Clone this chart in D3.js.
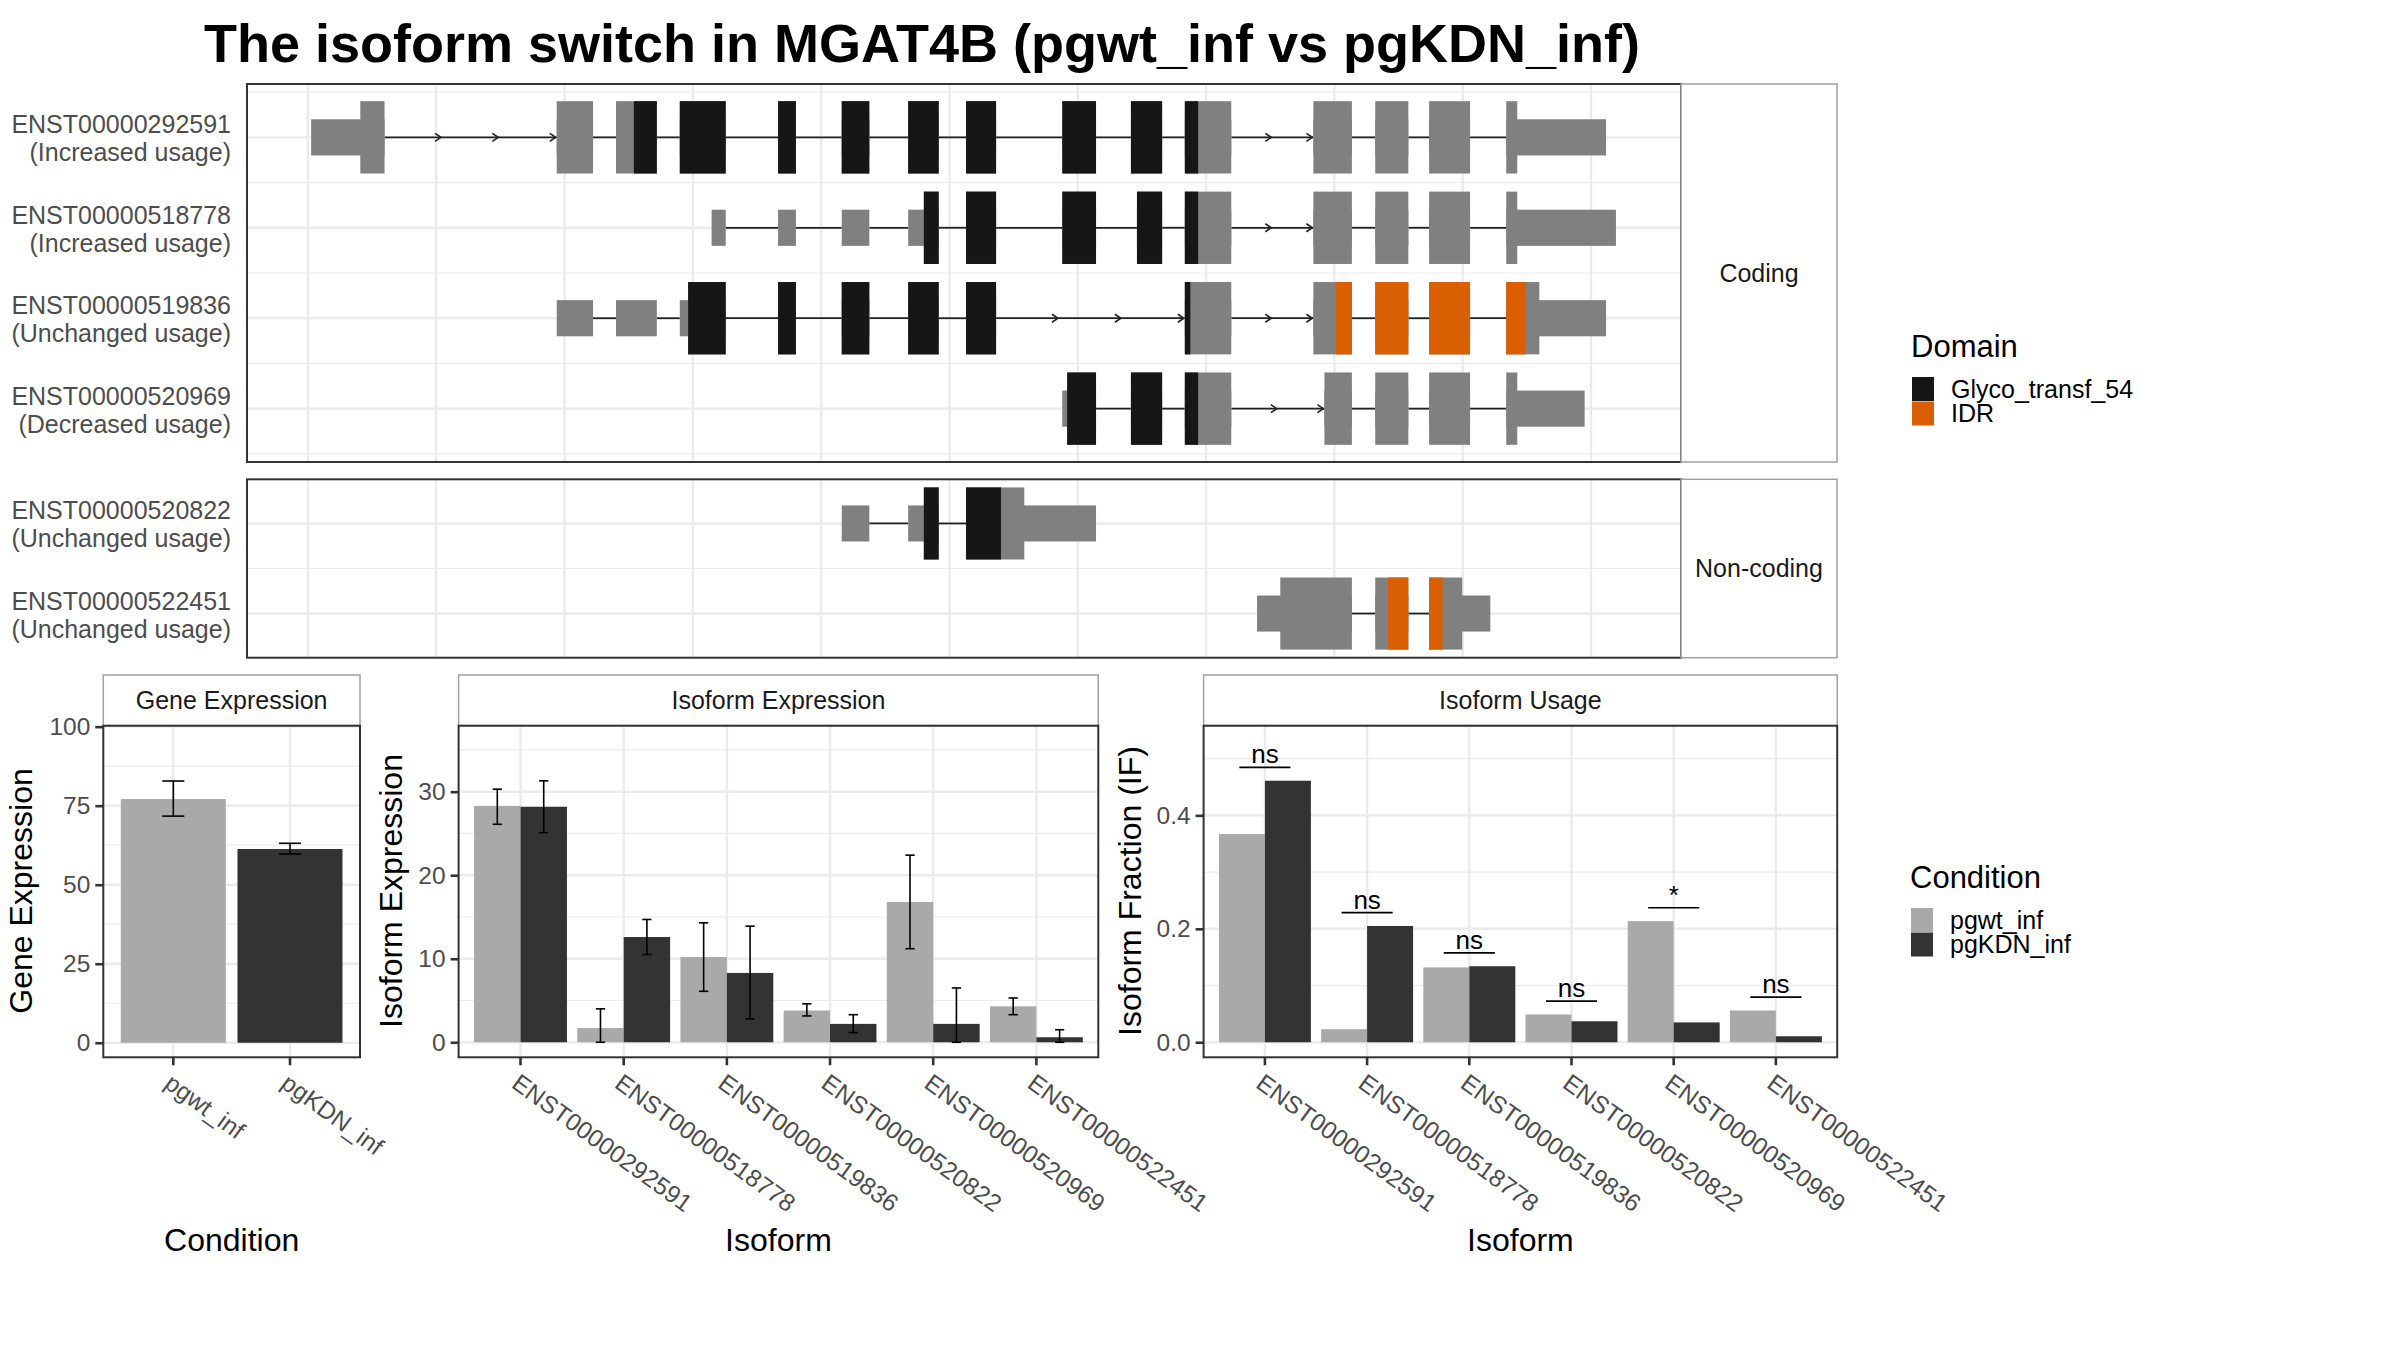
<!DOCTYPE html>
<html><head><meta charset="utf-8">
<script src="https://cdn.jsdelivr.net/npm/d3@7/dist/d3.min.js"></script>
<style>
body{margin:0;background:#fff}
svg{display:block}
text{font-family:"Liberation Sans",Arial,Helvetica,sans-serif}
</style>
</head><body>
<svg id="chart" width="2400" height="1350"></svg>
<script>
// ---------------- DATA ----------------
const titleText = "The isoform switch in MGAT4B (pgwt_inf vs pgKDN_inf)";

const transcriptIds = ["ENST00000292591","ENST00000518778","ENST00000519836","ENST00000520969","ENST00000520822","ENST00000522451"];
const usageLabels = ["Increased usage","Increased usage","Unchanged usage","Decreased usage","Unchanged usage","Unchanged usage"];
const transcriptClass = ["Coding","Coding","Coding","Coding","Non-coding","Non-coding"];

// exon coordinates (relative genomic position, bp)
const exons292591 = [[25,597],[1939,2222],[2401,2719],[2898,3256],[3664,3803],[4160,4375],[4678,4916],[5129,5363],[5879,6142],[6414,6657],[6834,7196],[7836,8136],[8318,8576],[8738,9057],[9339,10117]];
const exons518778 = [[3146,3256],[3664,3803],[4160,4375],[4678,4916],[5129,5363],[5879,6142],[6461,6657],[6834,7196],[7836,8136],[8318,8576],[8738,9057],[9339,10194]];
const exons519836 = [[1939,2222],[2401,2719],[2898,3256],[3664,3803],[4160,4375],[4678,4916],[5129,5363],[6834,7196],[7836,8136],[8318,8576],[8738,9057],[9339,10117]];
const exons520969 = [[5879,6142],[6414,6657],[6834,7196],[7922,8136],[8318,8576],[8738,9057],[9339,9950]];
const exons520822 = [[4160,4375],[4678,4916],[5129,6142]];
const exons522451 = [[7397,8136],[8318,8576],[8738,9215]];
const exonSets = [exons292591, exons518778, exons519836, exons520969, exons520822, exons522451];

const cdsStart = [408, 4800, 2963, 5917, 4800, 7578];
const cdsEnd   = [9425, 9425, 9597, 9425, 5583, 8996];

const domainNames = ["Glyco_transf_54","IDR"];
const domains292591 = [["Glyco_transf_54",2540,6938]];
const domains518778 = [["Glyco_transf_54",4800,6938]];
const domains519836 = [["Glyco_transf_54",2963,6877],["IDR",8012,9492]];
const domains520969 = [["Glyco_transf_54",5917,6938]];
const domains520822 = [["Glyco_transf_54",4800,5401]];
const domains522451 = [["IDR",8418,8843]];
const domainSets = [domains292591, domains518778, domains519836, domains520969, domains520822, domains522451];

const conditions = ["pgwt_inf","pgKDN_inf"];
const geneExpMean = [77.1, 61.3];
const geneExpLow  = [71.7, 59.7];
const geneExpHigh = [82.8, 63.1];

const isoforms = ["ENST00000292591","ENST00000518778","ENST00000519836","ENST00000520822","ENST00000520969","ENST00000522451"];
const isoExpWt     = [28.3, 1.7, 10.2, 3.8, 16.8, 4.3];
const isoExpWtLow  = [26.1, 0.0, 6.1, 3.15, 11.2, 3.3];
const isoExpWtHigh = [30.3, 4.0, 14.3, 4.6, 22.4, 5.3];
const isoExpKd     = [28.2, 12.6, 8.3, 2.2, 2.2, 0.6];
const isoExpKdLow  = [25.1, 10.5, 2.8, 1.16, 0.0, 0.0];
const isoExpKdHigh = [31.3, 14.7, 13.9, 3.3, 6.5, 1.5];

const ifWt = [0.367, 0.023, 0.132, 0.049, 0.2135, 0.056];
const ifKd = [0.461, 0.205, 0.134, 0.037, 0.035, 0.0106];
const sigLabels = ["ns","ns","ns","ns","*","ns"];

const geneTicks = [0,25,50,75,100];
const isoTicks = [0,10,20,30];
const ifTicks = [0,0.2,0.4];

// ---------------- STYLE ----------------
const conditionColors = {"pgwt_inf":"#A9A9A9","pgKDN_inf":"#333333"};
const domainColors = {"Glyco_transf_54":"#161616","IDR":"#D95F02"};
const exonGray = "#808080";
const gridCol = "#EBEBEB";
const borderCol = "#333333";
const stripBorder = "#A0A0A0";
const axisTextCol = "#4D4D4D";

const svg = d3.select("#chart");
svg.append("rect").attr("width",2400).attr("height",1350).attr("fill","#fff");

// title
svg.append("text").attr("x",204).attr("y",62).attr("font-size",54).attr("font-weight","bold")
  .attr("fill","#000").text(titleText);

// ---------------- TRANSCRIPT PANELS ----------------
const genomeDomain = [-475, 10701];
const txX = d3.scaleLinear().domain(genomeDomain).range([247,1681]);
const stripRight = 1837;

const facetDefs = [
  {cls:"Coding", top:84, bottom:462, yDom:[0.41,4.59]},
  {cls:"Non-coding", top:479.3, bottom:657.7, yDom:[0.51,2.49]}
];

facetDefs.forEach(f => {
  const idx = transcriptIds.map((d,i)=>i).filter(i => transcriptClass[i] === f.cls);
  const n = idx.length;
  const y = d3.scaleLinear().domain(f.yDom).range([f.bottom, f.top]);
  const g = svg.append("g");
  const x0 = txX.range()[0], x1 = txX.range()[1];

  // vertical grid
  const vt = d3.ticks(genomeDomain[0], genomeDomain[1], 10);
  g.selectAll(null).data(vt).join("line")
    .attr("x1",d=>txX(d)).attr("x2",d=>txX(d)).attr("y1",f.top).attr("y2",f.bottom)
    .attr("stroke",gridCol).attr("stroke-width",2.4);
  // horizontal grid
  const hv = [];
  for (let v = Math.ceil(f.yDom[0]*2)/2; v <= f.yDom[1]; v += 0.5) hv.push(v);
  g.selectAll(null).data(hv).join("line")
    .attr("x1",x0).attr("x2",x1).attr("y1",d=>y(d)).attr("y2",d=>y(d))
    .attr("stroke",gridCol).attr("stroke-width",d=>Number.isInteger(d)?2.4:1.2);

  const tallH = y(0) - y(0.4);
  const shortH = y(0) - y(0.2);

  idx.forEach((ti,k) => {
    const yc = y(n - k);
    const ex = exonSets[ti];
    // introns
    for (let j=0;j<ex.length-1;j++){
      const a = txX(ex[j][1]), b = txX(ex[j+1][0]);
      g.append("line").attr("x1",a).attr("x2",b).attr("y1",yc).attr("y2",yc)
        .attr("stroke","#222").attr("stroke-width",1.8);
      const L = b - a;
      if (L > 75) {
        const m = Math.ceil(L/65);
        for (let q=1;q<=m;q++){
          const ax = a + L*q/m - 1;
          g.append("path").attr("d",`M${ax-6},${yc-4}L${ax},${yc}L${ax-6},${yc+4}`)
            .attr("fill","none").attr("stroke","#222").attr("stroke-width",1.6);
        }
      }
    }
    // exons
    ex.forEach(([s,e]) => {
      g.append("rect").attr("x",txX(s)).attr("width",txX(e)-txX(s))
        .attr("y",yc-shortH).attr("height",2*shortH).attr("fill",exonGray);
      const cs = Math.max(s, cdsStart[ti]), ce = Math.min(e, cdsEnd[ti]);
      if (ce > cs) {
        g.append("rect").attr("x",txX(cs)).attr("width",txX(ce)-txX(cs))
          .attr("y",yc-tallH).attr("height",2*tallH).attr("fill",exonGray);
        domainSets[ti].forEach(([name,ds,de]) => {
          const a = Math.max(cs,ds), b = Math.min(ce,de);
          if (b > a) g.append("rect").attr("x",txX(a)).attr("width",txX(b)-txX(a))
            .attr("y",yc-tallH).attr("height",2*tallH).attr("fill",domainColors[name]);
        });
      }
    });
    // labels
    const t = svg.append("text").attr("text-anchor","end").attr("font-size",25).attr("fill",axisTextCol);
    t.append("tspan").attr("x",231).attr("y",yc-4).text(transcriptIds[ti]);
    t.append("tspan").attr("x",231).attr("y",yc+24).text("(" + usageLabels[ti] + ")");
  });

  // border
  g.append("rect").attr("x",x0).attr("y",f.top).attr("width",x1-x0).attr("height",f.bottom-f.top)
    .attr("fill","none").attr("stroke",borderCol).attr("stroke-width",2);
  // strip
  svg.append("rect").attr("x",x1).attr("y",f.top).attr("width",stripRight-x1).attr("height",f.bottom-f.top)
    .attr("fill","#fff").attr("stroke",stripBorder).attr("stroke-width",1.5);
  svg.append("text").attr("x",(x1+stripRight)/2).attr("y",(f.top+f.bottom)/2).attr("dy","0.35em")
    .attr("text-anchor","middle").attr("font-size",25).attr("fill","#1A1A1A").text(f.cls);
});

// ---------------- LEGENDS ----------------
function legend(x, titleY, title, items, colors, keyY0) {
  svg.append("text").attr("x",x).attr("y",titleY).attr("dy","0.35em").attr("font-size",31).attr("fill","#000").text(title);
  items.forEach((it,i) => {
    const ky = keyY0 + i*24.5;
    svg.append("rect").attr("x",x+1).attr("y",ky).attr("width",22).attr("height",24).attr("fill",colors[it]);
    svg.append("text").attr("x",x+40).attr("y",ky+12).attr("dy","0.35em").attr("font-size",25).attr("fill","#000").text(it);
  });
}
legend(1911, 346, "Domain", domainNames, domainColors, 377);
legend(1910, 877, "Condition", conditions, conditionColors, 908);

// ---------------- BAR PANELS ----------------
const panelTop = 725.7, panelBottom = 1057.3, stripTop = 675;

function panelFrame(x0, x1, yScale, ticks, minor, fmt, cats, stripLabel, yTitle, yTitleX, xTitle) {
  const g = svg.append("g");
  const band = d3.scaleBand().domain(cats).range([x0,x1]).paddingInner(0).paddingOuter(0.1);
  // grid
  g.selectAll(null).data(minor).join("line").attr("x1",x0).attr("x2",x1)
    .attr("y1",d=>yScale(d)).attr("y2",d=>yScale(d)).attr("stroke",gridCol).attr("stroke-width",1.2);
  g.selectAll(null).data(ticks).join("line").attr("x1",x0).attr("x2",x1)
    .attr("y1",d=>yScale(d)).attr("y2",d=>yScale(d)).attr("stroke",gridCol).attr("stroke-width",2.4);
  g.selectAll(null).data(cats).join("line").attr("x1",d=>band(d)+band.bandwidth()/2).attr("x2",d=>band(d)+band.bandwidth()/2)
    .attr("y1",panelTop).attr("y2",panelBottom).attr("stroke",gridCol).attr("stroke-width",2.4);
  // strip
  svg.append("rect").attr("x",x0).attr("y",stripTop).attr("width",x1-x0).attr("height",panelTop-stripTop)
    .attr("fill","#fff").attr("stroke",stripBorder).attr("stroke-width",1.5);
  svg.append("text").attr("x",(x0+x1)/2).attr("y",(stripTop+panelTop)/2).attr("dy","0.35em")
    .attr("text-anchor","middle").attr("font-size",25).attr("fill","#1A1A1A").text(stripLabel);
  // y axis
  const ya = svg.append("g").attr("transform",`translate(${x0},0)`)
    .call(d3.axisLeft(yScale).tickValues(ticks).tickSize(8).tickPadding(5).tickFormat(fmt));
  ya.select(".domain").remove();
  ya.selectAll(".tick line").attr("stroke",borderCol).attr("stroke-width",2.6);
  ya.selectAll(".tick text").attr("font-size",24.5).attr("fill",axisTextCol).attr("font-family",null);
  // x axis
  const xa = svg.append("g").attr("transform",`translate(0,${panelBottom})`)
    .call(d3.axisBottom(band).tickSize(8).tickPadding(0));
  xa.select(".domain").remove();
  xa.selectAll(".tick line").attr("stroke",borderCol).attr("stroke-width",2.6);
  xa.selectAll(".tick text").attr("font-size",24.5).attr("fill",axisTextCol).attr("font-family",null)
    .attr("text-anchor","start").attr("y",0).attr("dy","0.72em")
    .attr("transform","translate(0,15) rotate(36)");
  // titles
  svg.append("text").attr("transform",`translate(${yTitleX},891) rotate(-90)`).attr("dy","0.35em")
    .attr("text-anchor","middle").attr("font-size",32).attr("fill","#000").text(yTitle);
  svg.append("text").attr("x",(x0+x1)/2).attr("y",1240).attr("dy","0.35em")
    .attr("text-anchor","middle").attr("font-size",32).attr("fill","#000").text(xTitle);
  return {g, band};
}
function border(x0,x1){
  svg.append("rect").attr("x",x0).attr("y",panelTop).attr("width",x1-x0).attr("height",panelBottom-panelTop)
    .attr("fill","none").attr("stroke",borderCol).attr("stroke-width",2);
}
function errBar(g, cx, w, yLow, yHigh){
  g.append("line").attr("x1",cx).attr("x2",cx).attr("y1",yLow).attr("y2",yHigh).attr("stroke","#000").attr("stroke-width",1.6);
  [yLow,yHigh].forEach(yy => g.append("line").attr("x1",cx-w/2).attr("x2",cx+w/2).attr("y1",yy).attr("y2",yy)
    .attr("stroke","#000").attr("stroke-width",1.6));
}

// Gene expression
{
  const x0 = 103.3, x1 = 360;
  const y = d3.scaleLinear().domain([-4.6,100.3]).range([panelBottom,panelTop]);
  const {g, band} = panelFrame(x0,x1,y,geneTicks,[12.5,37.5,62.5,87.5],d3.format("d"),conditions,
    "Gene Expression","Gene Expression",21,"Condition");
  const bw = band.bandwidth()*0.9;
  conditions.forEach((c,i) => {
    const cx = band(c)+band.bandwidth()/2;
    g.append("rect").attr("x",cx-bw/2).attr("width",bw).attr("y",y(geneExpMean[i]))
      .attr("height",y(0)-y(geneExpMean[i])).attr("fill",conditionColors[c]);
    errBar(g, cx, bw*0.21, y(geneExpLow[i]), y(geneExpHigh[i]));
  });
  border(x0,x1);
}

// Isoform expression
{
  const x0 = 458.6, x1 = 1098.3;
  const y = d3.scaleLinear().domain([-1.8,37.9]).range([panelBottom,panelTop]);
  const {g, band} = panelFrame(x0,x1,y,isoTicks,[5,15,25,35],d3.format("d"),isoforms,
    "Isoform Expression","Isoform Expression",391,"Isoform");
  const bw = band.bandwidth()*0.45;
  const series = [[isoExpWt,isoExpWtLow,isoExpWtHigh],[isoExpKd,isoExpKdLow,isoExpKdHigh]];
  isoforms.forEach((iso,i) => {
    const c0 = band(iso)+band.bandwidth()/2;
    series.forEach(([m,lo,hi],s) => {
      const bx = c0 - bw + s*bw;
      g.append("rect").attr("x",bx).attr("width",bw).attr("y",y(m[i])).attr("height",y(0)-y(m[i]))
        .attr("fill",conditionColors[conditions[s]]);
      errBar(g, bx+bw/2, bw*0.2, y(lo[i]), y(hi[i]));
    });
  });
  border(x0,x1);
}

// Isoform usage
{
  const x0 = 1203.6, x1 = 1837.2;
  const y = d3.scaleLinear().domain([-0.0265,0.558]).range([panelBottom,panelTop]);
  const {g, band} = panelFrame(x0,x1,y,ifTicks,[0.1,0.3,0.5],d3.format(".1f"),isoforms,
    "Isoform Usage","Isoform Fraction (IF)",1130,"Isoform");
  const bw = band.bandwidth()*0.45;
  const series = [ifWt, ifKd];
  isoforms.forEach((iso,i) => {
    const c0 = band(iso)+band.bandwidth()/2;
    series.forEach((m,s) => {
      const bx = c0 - bw + s*bw;
      g.append("rect").attr("x",bx).attr("width",bw).attr("y",y(m[i])).attr("height",y(0)-y(m[i]))
        .attr("fill",conditionColors[conditions[s]]);
    });
    const ly = y(Math.max(ifWt[i], ifKd[i]) + 0.0235);
    const hw = band.bandwidth()*0.25;
    g.append("line").attr("x1",c0-hw).attr("x2",c0+hw).attr("y1",ly).attr("y2",ly)
      .attr("stroke","#000").attr("stroke-width",1.6);
    g.append("text").attr("x",c0).attr("y",ly-4).attr("text-anchor","middle").attr("font-size",26)
      .attr("fill","#000").text(sigLabels[i]);
  });
  border(x0,x1);
}
</script>
</body></html>
